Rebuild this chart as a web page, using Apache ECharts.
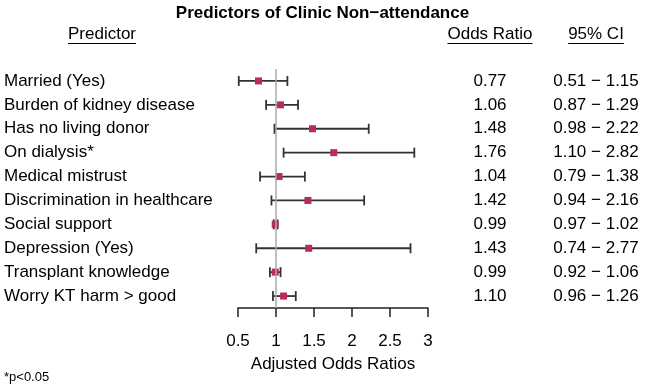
<!DOCTYPE html>
<html>
<head>
<meta charset="utf-8">
<script src="https://cdn.jsdelivr.net/npm/echarts@6/dist/echarts.min.js"></script>
<style>
  html, body { margin: 0; padding: 0; background: #fff; }
  #forest { width: 645px; height: 388px; }
</style>
</head>
<body>
<div id="forest"></div>
<script>
// data
var predictors = ['Married (Yes)', 'Burden of kidney disease', 'Has no living donor', 'On dialysis*',
  'Medical mistrust', 'Discrimination in healthcare', 'Social support', 'Depression (Yes)',
  'Transplant knowledge', 'Worry KT harm > good'];
var oddsRatio = [0.77, 1.06, 1.48, 1.76, 1.04, 1.42, 0.99, 1.43, 0.99, 1.10];
var ciLow = [0.51, 0.87, 0.98, 1.10, 0.79, 0.94, 0.97, 0.74, 0.92, 0.96];
var ciHigh = [1.15, 1.29, 2.22, 2.82, 1.38, 2.16, 1.02, 2.77, 1.06, 1.26];
var xTicks = [0.5, 1, 1.5, 2, 2.5, 3];

var FONT = "'Liberation Sans', Arial, sans-serif";
var orText = oddsRatio.map(function (v) { return v.toFixed(2); });
var ciText = ciLow.map(function (v, i) { return v.toFixed(2) + ' \u2212 ' + ciHigh[i].toFixed(2); });

// underlined column headers
var ctx = document.createElement('canvas').getContext('2d');
ctx.font = '17px ' + FONT;
function header(txt, cx, cy) {
  var w = ctx.measureText(txt).width;
  return [
    { type: 'text', x: cx, y: cy, style: { text: txt, fill: '#000', font: '17px ' + FONT, align: 'center', verticalAlign: 'middle' } },
    { type: 'line', shape: { x1: cx - w / 2, y1: cy + 9.5, x2: cx + w / 2, y2: cy + 9.5 }, style: { stroke: '#000', lineWidth: 1 } }
  ];
}

var myChart = echarts.init(document.getElementById('forest'));
var option = {
  animation: false,
  title: {
    text: 'Predictors of Clinic Non\u2212attendance',
    left: 'center',
    top: 0,
    textStyle: { fontSize: 17, fontWeight: 'bold', color: '#000', fontFamily: FONT }
  },
  grid: { left: 238, right: 217, top: 69, bottom: 80 },
  xAxis: {
    type: 'value',
    min: 0.5,
    max: 3,
    interval: 0.5,
    splitLine: { show: false },
    axisLine: { show: true, lineStyle: { color: '#222', width: 1.5 } },
    axisTick: { show: true, length: 9, lineStyle: { color: '#222', width: 1.5 } },
    axisLabel: { fontSize: 17, color: '#000', margin: 25, fontFamily: FONT,
      customValues: xTicks },
    name: 'Adjusted Odds Ratios',
    nameLocation: 'middle',
    nameGap: 48,
    nameTextStyle: { fontSize: 17, color: '#000', fontFamily: FONT }
  },
  yAxis: [
    {
      type: 'category', data: predictors, inverse: true,
      axisLine: { show: false }, axisTick: { show: false },
      axisLabel: { align: 'left', margin: 234, fontSize: 17, color: '#000', fontFamily: FONT }
    },
    {
      type: 'category', data: orText, inverse: true, position: 'right',
      axisLine: { show: false }, axisTick: { show: false },
      axisLabel: { align: 'center', margin: 62, fontSize: 17, color: '#000', fontFamily: FONT }
    },
    {
      type: 'category', data: ciText, inverse: true, position: 'right',
      axisLine: { show: false }, axisTick: { show: false },
      axisLabel: { align: 'center', margin: 168, fontSize: 17, color: '#000', fontFamily: FONT }
    }
  ],
  series: [
    {
      // reference line at OR = 1
      type: 'line', data: [], z: 1,
      markLine: {
        silent: true, symbol: 'none', label: { show: false },
        lineStyle: { color: '#aaaaaa', width: 1.5, type: 'solid' },
        data: [{ xAxis: 1 }]
      }
    },
    {
      // confidence intervals
      type: 'custom', z: 2,
      data: predictors.map(function (p, i) { return [i, ciLow[i], ciHigh[i]]; }),
      encode: { x: [1, 2], y: 0 },
      renderItem: function (params, api) {
        var row = api.value(0);
        var lo = api.coord([api.value(1), row]);
        var hi = api.coord([api.value(2), row]);
        var s = { stroke: '#333', lineWidth: 1.8 };
        return {
          type: 'group',
          children: [
            { type: 'line', shape: { x1: lo[0], y1: lo[1], x2: hi[0], y2: hi[1] }, style: s },
            { type: 'line', shape: { x1: lo[0], y1: lo[1] - 5, x2: lo[0], y2: lo[1] + 5 }, style: s },
            { type: 'line', shape: { x1: hi[0], y1: hi[1] - 5, x2: hi[0], y2: hi[1] + 5 }, style: s }
          ]
        };
      }
    },
    {
      type: 'scatter', z: 3,
      symbol: 'rect', symbolSize: 7,
      itemStyle: { color: '#bb2a5e', opacity: 1 },
      data: oddsRatio.map(function (v, i) { return [v, i]; })
    }
  ],
  graphic: header('Predictor', 102, 34)
    .concat(header('Odds Ratio', 490, 34))
    .concat(header('95% CI', 596, 34))
    .concat([{ type: 'text', x: 4, y: 377, style: { text: '*p<0.05', fill: '#000', font: '13px ' + FONT, verticalAlign: 'middle' } }])
};
myChart.setOption(option);
</script>
</body>
</html>
